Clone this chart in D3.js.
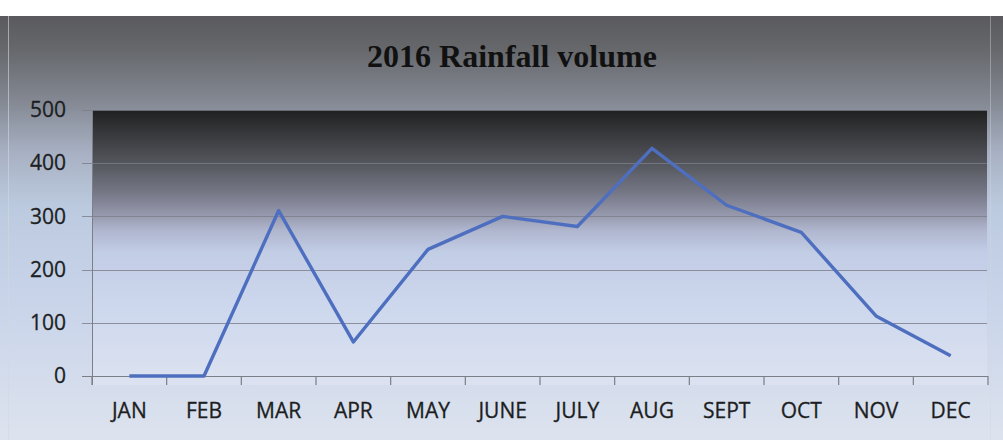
<!DOCTYPE html>
<html>
<head>
<meta charset="utf-8">
<script src="https://cdn.jsdelivr.net/npm/d3@7"></script>
<style>
html,body{margin:0;padding:0;background:#fff;}
svg{display:block;}
</style>
</head>
<body>
<svg id="chart" width="1003" height="440"></svg>
<script>
const title = "2016 Rainfall volume";
const months = ["JAN","FEB","MAR","APR","MAY","JUNE","JULY","AUG","SEPT","OCT","NOV","DEC"];
const rainfall = [0, 0, 311, 64, 238, 300, 281, 428, 321, 270, 113, 38];
const yTicks = [0, 100, 200, 300, 400, 500];

const svg = d3.select("#chart");
const W = 1003, H = 440;
const plot = {left: 92, right: 988, top: 110, bottom: 376};

const defs = svg.append("defs");
const outer = defs.append("linearGradient").attr("id","outerG").attr("x1",0).attr("y1",0).attr("x2",0).attr("y2",1);
[[0,"#5a5a5e"],[0.08,"#66686c"],[0.2,"#838892"],[0.32,"#a7b0c2"],[0.45,"#bccadf"],[0.7,"#cad5ea"],[1,"#dde3ee"]]
  .forEach(([o,c]) => outer.append("stop").attr("offset",o).attr("stop-color",c));
const inner = defs.append("linearGradient").attr("id","innerG").attr("x1",0).attr("y1",0).attr("x2",0).attr("y2",1);
[[0,"#1e2020"],[0.08,"#35373a"],[0.2,"#56585f"],[0.3,"#757786"],[0.38,"#9598ac"],[0.44,"#b0b7cf"],[0.52,"#c2cde6"],[0.75,"#cfd9ee"],[1,"#dce2f0"]]
  .forEach(([o,c]) => inner.append("stop").attr("offset",o).attr("stop-color",c));

svg.append("rect").attr("x",0).attr("y",16).attr("width",W).attr("height",H-16).attr("fill","url(#outerG)");
svg.append("line").attr("x1",8.5).attr("x2",8.5).attr("y1",16).attr("y2",H).attr("stroke","#d4d8e0").attr("stroke-width",1).attr("opacity",0.6);
svg.append("line").attr("x1",990.5).attr("x2",990.5).attr("y1",16).attr("y2",H).attr("stroke","#d4d8e0").attr("stroke-width",1).attr("opacity",0.4);

const x = d3.scaleBand().domain(months).range([plot.left, plot.right]).padding(0);
const y = d3.scaleLinear().domain([0, 500]).range([plot.bottom, plot.top]);

svg.append("rect").attr("x",plot.left).attr("y",plot.top).attr("width",plot.right-plot.left-1).attr("height",plot.bottom-plot.top+9).attr("fill","url(#innerG)");

svg.append("text").attr("x",512).attr("y",67).attr("text-anchor","middle")
  .attr("font-family","'Liberation Serif','Times New Roman',serif").attr("font-weight","bold").attr("font-size",32)
  .attr("fill","#111").text(title);

// gridlines
svg.append("g").selectAll("line").data(yTicks.filter(d=>d>0)).join("line")
  .attr("x1",82).attr("x2",plot.right-1).attr("y1",d=>Math.round(y(d))+0.5).attr("y2",d=>Math.round(y(d))+0.5)
  .attr("stroke","#7c7e88").attr("stroke-width",1.2).attr("opacity",0.8);

// y axis
const yAxis = svg.append("g").attr("transform",`translate(${plot.left},0)`)
  .call(d3.axisLeft(y).tickValues(yTicks).tickSize(0).tickPadding(26));
yAxis.select(".domain").attr("stroke","#7c7e88").attr("d",`M0.5,${plot.top}V${plot.bottom+9}`);
yAxis.selectAll("text").attr("font-family","'Open Sans',sans-serif").attr("font-size",21).attr("fill","#1c1e22")
  .attr("stroke","#1c1e22").attr("stroke-width",0.3);

// x axis
const xAxis = svg.append("g").attr("transform",`translate(0,${plot.bottom})`)
  .call(d3.axisBottom(x).tickSize(0).tickPadding(27));
xAxis.select(".domain").attr("stroke","#7c7e88").attr("stroke-width",1.2).attr("d",`M${82},0.5H${plot.right}`);
xAxis.selectAll("text").attr("font-family","'Open Sans',sans-serif").attr("font-size",21).attr("fill","#1c1e22")
  .attr("stroke","#1c1e22").attr("stroke-width",0.3);
svg.append("g").selectAll("line").data(months.concat(["end"])).join("line")
  .attr("x1",(d,i)=>i<months.length? x(d): plot.right).attr("x2",(d,i)=>i<months.length? x(d): plot.right)
  .attr("y1",plot.bottom).attr("y2",plot.bottom+9).attr("stroke","#7c7e88").attr("stroke-width",1.2);

// line
const line = d3.line().x((d,i)=>x(months[i])+x.bandwidth()/2).y(d=>y(d));
svg.append("path").datum(rainfall).attr("d",line).attr("fill","none")
  .attr("stroke","#4e6fbf").attr("stroke-width",3.4).attr("stroke-linejoin","round");
</script>
</body>
</html>
